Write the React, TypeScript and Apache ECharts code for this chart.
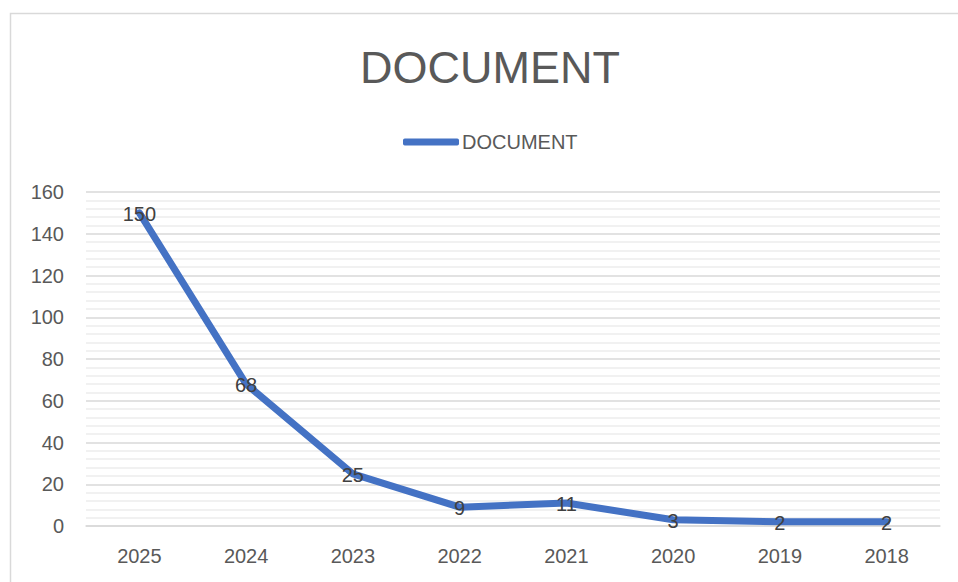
import React, { useEffect, useRef } from "react";
import * as echarts from "echarts";

const categories = ["2025", "2024", "2023", "2022", "2021", "2020", "2019", "2018"];
const documentValues = [150, 68, 25, 9, 11, 3, 2, 2];
const seriesName = "DOCUMENT";
const titleText = "DOCUMENT";

const FONT = "'Liberation Sans', Arial, sans-serif";
const TEXT = "#595959";

export default function App() {
  const ref = useRef<HTMLDivElement>(null);
  useEffect(() => {
    if (!ref.current) return;
    const chart = echarts.init(ref.current, undefined, { renderer: "svg" });
    chart.setOption({
      animation: false,
      backgroundColor: "#ffffff",
      textStyle: { fontFamily: FONT },
      title: {
        text: titleText,
        left: 355,
        top: 40,
        textStyle: { fontFamily: FONT, fontSize: 45, fontWeight: "normal", color: TEXT },
      },
      legend: {
        top: 127,
        left: 398,
        data: [{ name: seriesName, icon: "roundRect" }],
        itemWidth: 56,
        itemHeight: 7,
        textStyle: { fontFamily: FONT, fontSize: 20, color: TEXT, padding: [0, 0, 0, -2] },
      },
      graphic: [
        {
          type: "rect",
          shape: { x: 10.5, y: 13.5, width: 960, height: 600 },
          style: { fill: "none", stroke: "#d9d9d9", lineWidth: 1.5 },
          silent: true,
        },
      ],
      grid: { left: 86, right: 18, top: 192, bottom: 56 },
      xAxis: {
        type: "category",
        data: categories,
        boundaryGap: true,
        axisLine: { show: true, lineStyle: { color: "#d9d9d9", width: 1.5 } },
        axisTick: { show: false },
        axisLabel: { fontFamily: FONT, fontSize: 20, color: TEXT, margin: 20 },
      },
      yAxis: {
        type: "value",
        min: 0,
        max: 160,
        interval: 20,
        axisLine: { show: false },
        axisTick: { show: false },
        axisLabel: { fontFamily: FONT, fontSize: 20, color: TEXT, margin: 22 },
        splitLine: { show: true, lineStyle: { color: "#d9d9d9", width: 1.5 } },
        minorTick: { show: false, splitNumber: 5 },
        minorSplitLine: { show: true, lineStyle: { color: "#ededed", width: 1.5 } },
      },
      series: [
        {
          name: seriesName,
          type: "line",
          data: documentValues,
          symbol: "circle",
          symbolSize: 0,
          showSymbol: true,
          lineStyle: { color: "#4472C4", width: 7, cap: "round", join: "round" },
          itemStyle: { color: "#4472C4" },
          label: {
            show: true,
            position: "inside",
            offset: [0, 1],
            fontFamily: FONT,
            fontSize: 20,
            color: "#404040",
          },
        },
      ],
    });
    return () => chart.dispose();
  }, []);
  return (
    <div
      ref={ref}
      style={{ position: "absolute", left: 0, top: 0, width: 958, height: 582 }}
    />
  );
}
